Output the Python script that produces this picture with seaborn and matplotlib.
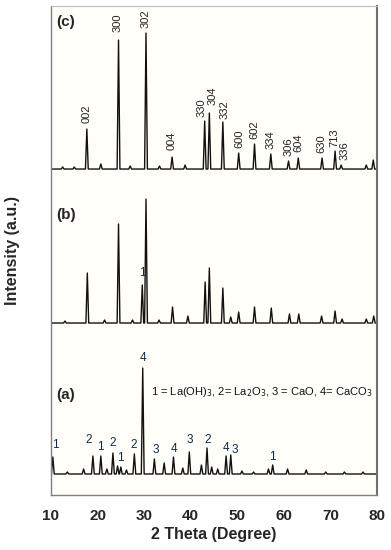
import matplotlib
matplotlib.use("Agg")
import matplotlib.pyplot as plt
import seaborn as sns
import pandas as pd

# peak positions (2 theta) and heights above baseline
c_pos = [12.5, 15.0, 17.7, 20.7, 24.5, 27.0, 30.4, 33.3, 36.0, 38.8, 43.0, 44.0, 46.9,
         50.3, 53.7, 57.2, 61.0, 63.1, 68.2, 71.0, 72.3, 77.7, 79.2]
c_height = [2, 2, 40, 5, 129, 3, 136, 3, 12, 4, 48, 56, 47,
            16, 25, 15, 8, 11, 11, 18, 4, 4, 9]

b_pos = [13.0, 17.8, 21.5, 24.5, 27.5, 29.6, 30.4, 33.2, 36.1, 39.4, 43.1, 44.0, 46.9,
         48.6, 50.3, 53.7, 57.3, 61.2, 63.2, 68.1, 71.0, 72.5, 77.7, 79.3]
b_height = [2, 50, 3, 99, 3, 38, 124, 3, 16, 7, 41, 55, 35,
            6, 11, 16, 15, 9, 9, 7, 12, 4, 4, 7]

a_pos = [10.4, 13.5, 17.0, 19.0, 20.7, 22.0, 23.3, 24.3, 25.0, 26.2, 27.9, 29.7, 32.2,
         34.3, 36.3, 38.3, 39.7, 42.3, 43.5, 44.5, 45.8, 47.6, 48.6, 51.0, 53.5,
         56.7, 57.6, 60.8, 64.8, 69.0, 73.0, 77.0]
a_height = [17, 2, 5, 18, 18, 5, 21, 8, 7, 4, 20, 106, 15,
            11, 17, 6, 22, 9, 26, 7, 5, 18, 19, 3, 2,
            5, 9, 5, 4, 2, 2, 2]

# hkl labels of pattern (c): text x (2 theta) and bottom of text (intensity units)
hkl_labels = ["002", "300", "302", "004", "330", "304", "332", "600", "602",
              "334", "306", "604", "630", "713", "336"]
hkl_x = [17.7, 24.4, 30.4, 35.8, 42.3, 44.6, 47.2, 50.4, 53.6,
         57.1, 61.0, 63.1, 68.1, 70.9, 73.0]
hkl_y = [372, 463, 467, 345, 378, 390, 376, 347, 356,
         346, 339, 343, 342, 348, 335]

# phase labels of pattern (a)
phase_labels = ["1", "2", "1", "2", "1", "2", "4", "3", "4", "3", "2", "4", "3", "1"]
phase_x = [10.9, 18.0, 20.5, 23.3, 24.8, 27.8, 29.8, 32.6, 36.5, 39.9, 43.7, 47.6, 49.4, 57.6]
phase_y = [50, 55, 48, 52, 37, 50, 137, 45, 46, 55, 55, 47, 45, 38]

offsets = {"(c)": 326, "(b)": 172, "(a)": 21}
half_w = 0.3

rows = []
for name, pos, hgt in [("(c)", c_pos, c_height), ("(b)", b_pos, b_height), ("(a)", a_pos, a_height)]:
    base = offsets[name]
    rows.append((name, 10.0, base))
    for p, h in zip(pos, hgt):
        rows.append((name, max(p - half_w, 10.0), base))
        rows.append((name, p, base + h))
        rows.append((name, p + half_w, base))
    rows.append((name, 80.0, base))
df = pd.DataFrame(rows, columns=["theta", "x", "y"])

sns.set_style("white")
plt.rcParams["font.family"] = ["Liberation Sans", "DejaVu Sans"]

fig = plt.figure(figsize=(3.91, 5.5), dpi=100)
ax = fig.add_axes([0.1304, 0.1, 0.8338, 0.889])
ax.set_facecolor("#fffef9")

sns.lineplot(data=df, x="x", y="y", hue="theta", units="theta", estimator=None, sort=False,
             palette=["#111111"] * 3, linewidth=1.0, legend=False, ax=ax)

ax.set_xlim(10, 80)
ax.set_ylim(0, 489)
ax.set_xticks(range(10, 81, 10))
ax.set_yticks([])
ax.tick_params(axis="x", direction="out", length=4, width=1, color="#666666", pad=6)
for lab in ax.get_xticklabels():
    lab.set_fontweight("bold")
    lab.set_fontsize(11)
ax.set_xlabel("2 Theta (Degree)", fontsize=11.5, fontweight="bold", labelpad=3)
ax.set_ylabel("Intensity (a.u.)", fontsize=11.5, fontweight="bold", labelpad=22)

for side, col, lw in [("left", "#808080", 1.0), ("bottom", "#808080", 1.0),
                      ("top", "#bbbbbb", 0.8), ("right", "#707070", 1.5)]:
    ax.spines[side].set_visible(True)
    ax.spines[side].set_color(col)
    ax.spines[side].set_linewidth(lw)

# panel tags
for name, ypix in [("(c)", 22), ("(b)", 215), ("(a)", 395)]:
    ax.text(13.2, 495 - ypix, name, fontsize=11, fontweight="bold", va="center", ha="center")

for lab, x, y in zip(hkl_labels, hkl_x, hkl_y):
    ax.text(x, y, lab, rotation=90, fontsize=8, ha="center", va="bottom", color="#222222")

navy = "#0d2b4a"
ax.text(29.6, 222, "1", fontsize=8.5, ha="center", va="center", color=navy)

for lab, x, y in zip(phase_labels, phase_x, phase_y):
    ax.text(x, y, lab, fontsize=8.5, ha="center", va="center", color=navy)

ax.text(31.5, 495 - 392,
        r"1 = La(OH)$_3$, 2= La$_2$O$_3$, 3 = CaO, 4= CaCO$_3$",
        fontsize=8, ha="left", va="center", color="#111111")

fig.savefig("out.png", dpi=100, facecolor="white")
